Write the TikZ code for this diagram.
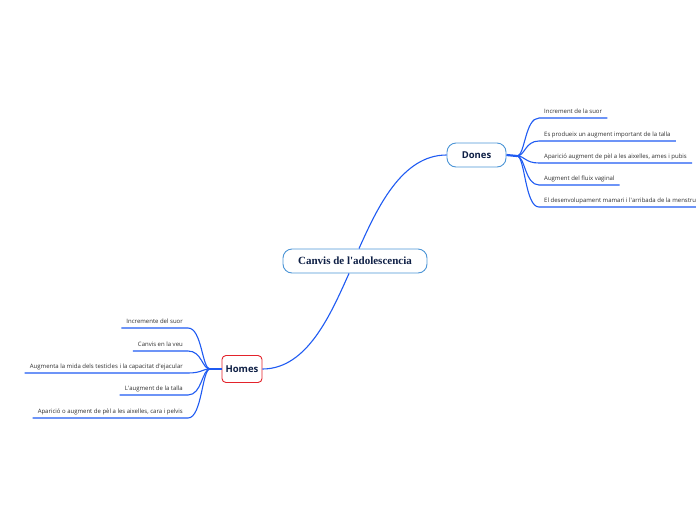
\documentclass[tikz,border=0pt]{standalone}
\usepackage{fontspec}
\setmainfont{Open Sans}
\newfontfamily\titlefont{Liberation Serif}
\usetikzlibrary{calc}

\definecolor{linkblue}{HTML}{1F5BF2}
\definecolor{boxblue}{HTML}{4C95D6}
\definecolor{navy}{HTML}{0E1F45}
\definecolor{boxred}{HTML}{E3232B}
\definecolor{leafgray}{HTML}{2E2E2E}

\begin{document}
\begin{tikzpicture}[x=1pt, y=-1pt,
    central/.style={draw=boxblue, line width=0.9pt, rounded corners=9pt, fill=white,
        text=navy, font=\titlefont\bfseries\fontsize{11}{13}\selectfont,
        minimum width=144pt, minimum height=24pt, inner sep=0pt},
    mainbox/.style={line width=0.9pt, rounded corners=9pt, fill=white, text=navy,
        font=\bfseries\fontsize{9.5}{11}\selectfont, inner sep=0pt},
    leaf/.style={text=leafgray, font=\fontsize{6}{7}\selectfont, inner xsep=5pt,
        inner ysep=2.5pt, text height=4.4pt, text depth=1.4pt},
    link/.style={draw=linkblue, line width=1.1pt},
    stub/.style={draw=linkblue, line width=2.2pt}]
\useasboundingbox (0,0) rectangle (696,520);
\clip (0,0) rectangle (696,520);

% Centre and the two main topics
\node [central] (adol) at (355,261) {Canvis de l\textquotesingle adolescencia};
\node [mainbox, draw=boxblue, minimum width=59pt, minimum height=24pt] (dones) at (476.5,155) {Dones};
\node [mainbox, draw=boxred, rounded corners=4pt, minimum width=40pt, minimum height=27pt] (homes) at (242,369) {Homes};

\draw [link] ($(adol.north)+(4,0)$) .. controls +(18,-40) and +(-45,0) .. (dones.west);
\draw [link] ($(adol.south)+(-6,0)$) .. controls +(-18,40) and +(45,0) .. (homes.east);

% Dones
\coordinate (dsplit) at (517,156);
\draw [stub] (dones.east) -- (dsplit);
\foreach \y/\t/\n in {118/{Increment de la suor}/d1,
    141/{Es produeix un augment important de la talla}/d2,
    163/{Aparició augment de pèl a les aixelles, ames i pubis}/d3,
    185/{Augment del fluix vaginal}/d4,
    207/{El desenvolupament mamari i l\textquotesingle arribada de la menstruació}/d5}
{
    \node [leaf, anchor=south west] (\n) at (539,\y) {\t};
    \draw [link] (dsplit) .. controls +(8,0) and +(-14,0) .. (\n.south west) -- (\n.south east);
}

% Homes
\coordinate (hsplit) at (210,369);
\draw [stub] (homes.west) -- (hsplit);
\foreach \y/\t/\n in {328/{Incremente del suor}/h1,
    351/{Canvis en la veu}/h2,
    373/{Augmenta la mida dels testicles i la capacitat d\textquotesingle ejacular}/h3,
    395/{L\textquotesingle augment de la talla}/h4,
    418/{Aparició o augment de pèl a les aixelles, cara i pelvis}/h5}
{
    \node [leaf, anchor=south east] (\n) at (188,\y) {\t};
    \draw [link] (hsplit) .. controls +(-8,0) and +(14,0) .. (\n.south east) -- (\n.south west);
}
\end{tikzpicture}
\end{document}
